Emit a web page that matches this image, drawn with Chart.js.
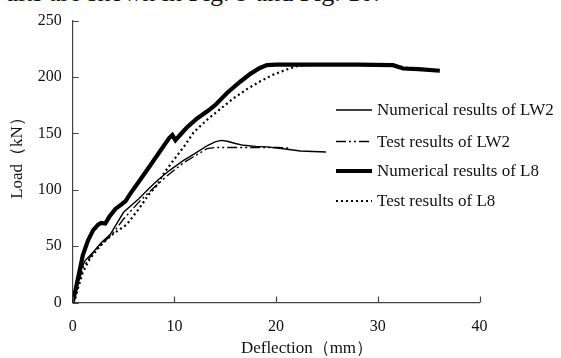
<!DOCTYPE html>
<html>
<head>
<meta charset="utf-8">
<script src="https://cdn.jsdelivr.net/npm/chart.js@4.4.1/dist/chart.umd.min.js"></script>
<style>
  html, body { margin: 0; padding: 0; background: #fff; overflow: hidden; }
  #wrap { position: relative; width: 561px; height: 358px; }
  #topline {
    position: absolute; left: 5px; top: -20.5px; white-space: nowrap;
    font: 26px/26px "Liberation Serif", serif; color: #111;
  }
  canvas { position: absolute; left: 0; top: 0; }
</style>
</head>
<body>
<div id="wrap">
  <div id="topline">ults are shown in Fig. 9 and Fig. 10.</div>
  <canvas id="c" width="561" height="358"></canvas>
</div>
<script>
// deflection (mm) / load (kN)
const lw2NumX = [0, 0.3, 0.7, 1.2, 2.0, 2.8, 3.7, 5.0, 6.5, 7.5, 8.3, 9.5, 10.9, 12.0, 13.2, 14.0, 14.6, 15.2, 16.0, 16.8, 18.0, 19.1, 20.7, 22.4, 24.9];
const lw2NumY = [0, 12, 26, 37, 44.5, 53, 60.5, 80, 92, 101, 108, 117, 126, 132, 139, 142.5, 143.8, 143, 141, 139.4, 138.5, 138, 136.4, 134.4, 133.5];

const lw2TestX = [0, 0.5, 1.0, 2.0, 3.0, 4.0, 5.0, 6.5, 8.0, 9.5, 11.0, 12.2, 13.2, 14.0, 16.0, 18.0, 20.0, 21.2];
const lw2TestY = [0, 15, 31, 44, 53, 62, 74, 89, 102, 114, 124.5, 131, 136.5, 137.5, 137.5, 137.5, 137.5, 137];

const l8NumX = [0, 0.3, 0.6, 1.0, 1.5, 2.0, 2.5, 2.8, 3.2, 3.6, 4.2, 4.8, 5.2, 5.7, 6.5, 7.5, 8.5, 9.5, 9.8, 10.1, 10.6, 11.2, 12.2, 13.3, 14.0, 15.2, 16.5, 17.5, 18.4, 19.1, 20, 22, 25, 28, 31.5, 32.5, 34, 36.1];
const l8NumY = [0, 12, 25, 42, 55, 64, 69, 70.5, 70, 76, 83, 87, 90, 97, 107, 120, 133, 146, 148.5, 144, 149, 155, 163, 170, 175, 186, 196, 203, 208, 210.5, 211, 211, 211, 211, 210.5, 207.5, 207, 205.5];

const l8TestX = [0, 0.2, 0.5, 1.0, 1.7, 2.4, 3.0, 4.0, 5.3, 6.5, 7.5, 8.3, 9.0, 9.9, 11.0, 11.9, 13.2, 14.5, 15.8, 17.1, 18.4, 19.7, 21, 22, 24, 28, 31, 33, 34];
const l8TestY = [0, 2, 12, 27, 39, 47, 53, 61, 69, 83, 96, 104, 115, 126, 139, 151, 162, 171.5, 181, 189, 196, 202, 206.5, 209.5, 211, 211, 210.5, 208, 207];

const seriesNames = ['Numerical results of LW2', 'Test results of LW2', 'Numerical results of L8', 'Test results of L8'];
const xTicks = [0, 10, 20, 30, 40];
const yTicks = [0, 50, 100, 150, 200, 250];

const SERIF = '"Liberation Serif", "Times New Roman", serif';

function pts(xs, ys) {
  return xs.map((x, i) => ({ x, y: ys[i] }));
}

// ticks point into the plot area in the original
const innerTicks = {
  id: 'innerTicks',
  afterDraw(chart) {
    const { ctx, chartArea: a, scales: { x, y } } = chart;
    ctx.save();
    ctx.strokeStyle = '#444';
    ctx.lineWidth = 1.2;
    ctx.beginPath();
    for (const v of xTicks) {
      const px = Math.round(x.getPixelForValue(v)) + 0.5;
      ctx.moveTo(px, a.bottom);
      ctx.lineTo(px, a.bottom - 6);
    }
    for (const v of yTicks) {
      const py = Math.round(y.getPixelForValue(v)) + 0.5;
      ctx.moveTo(a.left, py);
      ctx.lineTo(a.left + 6, py);
    }
    ctx.stroke();
    ctx.restore();
  },
};

const axisTitles = {
  id: 'axisTitles',
  afterDraw(chart) {
    const { ctx } = chart;
    ctx.save();
    ctx.fillStyle = '#111';
    ctx.font = '17px ' + SERIF;
    ctx.textAlign = 'center';
    ctx.textBaseline = 'middle';
    ctx.fillText('Deflection（mm）', 307, 349);
    ctx.translate(18, 154);
    ctx.rotate(-Math.PI / 2);
    ctx.fillText('Load（kN）', 0, 0);
    ctx.restore();
  },
};

const sideLegend = {
  id: 'sideLegend',
  afterDraw(chart) {
    const { ctx } = chart;
    const rows = [110, 141.5, 171, 201];
    ctx.save();
    chart.data.datasets.forEach((ds, i) => {
      const yy = rows[i];
      ctx.strokeStyle = ds.borderColor;
      ctx.lineWidth = ds.borderWidth;
      ctx.setLineDash(ds.borderDash || []);
      ctx.beginPath();
      ctx.moveTo(336, yy);
      ctx.lineTo(372, yy);
      ctx.stroke();
      ctx.setLineDash([]);
      ctx.fillStyle = '#111';
      ctx.font = '17px ' + SERIF;
      ctx.textAlign = 'left';
      ctx.textBaseline = 'middle';
      ctx.fillText(ds.label, 377, yy + 1);
    });
    ctx.restore();
  },
};

new Chart(document.getElementById('c'), {
  type: 'line',
  data: {
    datasets: [
      { label: seriesNames[0], data: pts(lw2NumX, lw2NumY), borderColor: '#000', borderWidth: 1.4 },
      { label: seriesNames[1], data: pts(lw2TestX, lw2TestY), borderColor: '#000', borderWidth: 1.4, borderDash: [10, 3, 2, 3, 2, 3] },
      { label: seriesNames[2], data: pts(l8NumX, l8NumY), borderColor: '#000', borderWidth: 4.2 },
      { label: seriesNames[3], data: pts(l8TestX, l8TestY), borderColor: '#000', borderWidth: 2.2, borderDash: [2, 3] },
    ],
  },
  options: {
    responsive: false,
    animation: false,
    devicePixelRatio: 1,
    layout: { padding: { top: 17, right: 81.5, left: 0, bottom: 0 } },
    elements: { point: { radius: 0 }, line: { tension: 0 } },
    plugins: { legend: { display: false }, tooltip: { enabled: false } },
    scales: {
      x: {
        type: 'linear',
        min: 0,
        max: 40,
        afterFit(s) { s.height = 55.5; },
        afterBuildTicks(s) { s.ticks = xTicks.map(v => ({ value: v })); },
        grid: { drawOnChartArea: false, drawTicks: false },
        border: { display: true, color: '#444', width: 1.2 },
        ticks: { color: '#111', padding: 15, maxRotation: 0, font: { family: SERIF, size: 16 } },
      },
      y: {
        min: 0,
        max: 250,
        afterFit(s) { s.width = 72.7; },
        afterBuildTicks(s) { s.ticks = yTicks.map(v => ({ value: v })); },
        grid: { drawOnChartArea: false, drawTicks: false },
        border: { display: true, color: '#444', width: 1.2 },
        ticks: { color: '#111', padding: 11, font: { family: SERIF, size: 16 } },
      },
    },
  },
  plugins: [innerTicks, axisTitles, sideLegend],
});
</script>
</body>
</html>
